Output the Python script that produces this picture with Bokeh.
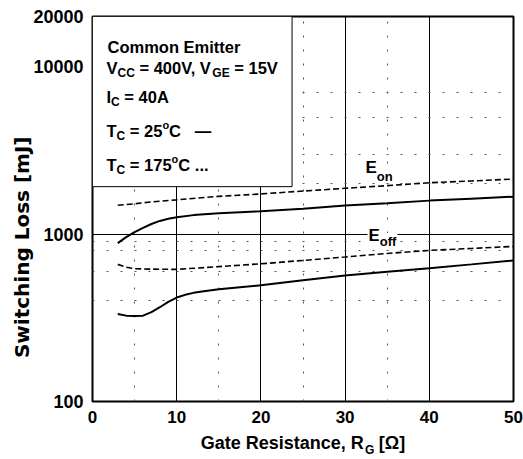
import math
from bokeh.plotting import figure
from bokeh.models import (FixedTicker, PrintfTickFormatter, Grid, BoxAnnotation, Label,
                          LogAxis, LinearAxis)
from bokeh.embed import file_html
from bokeh.resources import INLINE

# ---------------- data ----------------
rg_on25 = [3, 4, 5, 6, 7, 8, 9, 10, 12, 15, 20, 25, 30, 35, 40, 45, 50]
eon_25 = [884, 960, 1028, 1090, 1150, 1200, 1237, 1262, 1300, 1334, 1371, 1420, 1482, 1530, 1587, 1630, 1676]

rg_on175 = [3, 5, 7, 10, 15, 20, 25, 30, 35, 40, 45, 50]
eon_175 = [1488, 1520, 1560, 1603, 1683, 1740, 1810, 1880, 1950, 2030, 2080, 2136]

rg_off175 = [3, 4, 5, 7, 10, 15, 20, 25, 30, 35, 40, 45, 50]
eoff_175 = [660, 635, 622, 618, 616, 640, 665, 697, 730, 767, 800, 822, 845]

rg_off25 = [3, 4, 5, 6, 7, 8, 9, 10, 11, 12, 13, 15, 20, 25, 30, 35, 40, 45, 50]
eoff_25 = [333, 326, 324, 326, 342, 366, 394, 418, 434, 446, 455, 469, 495, 530, 567, 597, 626, 660, 697]

x_ticks = [0, 10, 20, 30, 40, 50]
y_ticks = [100, 1000, 10000, 20000]
x_grid_solid = [10, 20, 30, 40]
x_grid_dotted = [5, 15, 25, 35]
y_grid_solid = [1000]
y_grid_dotted = [400, 600, 800, 900, 2000, 3000, 5000, 7000]

NB = "\u00a0"
x_title = "Gate Resistance, R" + NB * 3 + "[\u03a9]"
x_title_sub = "G"
y_title = "Switching Loss [mJ]"

FONT = "Liberation Sans"
W, H = 523, 459
FL, FR, FT, FB = 92, 513, 16, 402   # frame edges in page pixels

p = figure(width=W, height=H, x_range=(0, 50), y_range=(100, 20000),
           y_axis_type="log", output_backend="svg", toolbar_location=None,
           min_border_left=FL, min_border_right=W - FR, min_border_top=FT,
           min_border_bottom=H - FB)
p.background_fill_color = "white"
p.border_fill_color = "white"
p.outline_line_color = "black"
p.outline_line_width = 2

for ax, fs in ((p.xaxis[0], "17px"), (p.yaxis[0], "18px")):
    ax.axis_line_color = None
    ax.major_tick_line_color = None
    ax.minor_tick_line_color = None
    ax.major_tick_out = 0
    ax.major_tick_in = 0
    ax.major_label_text_font = FONT
    ax.major_label_text_font_style = "bold"
    ax.major_label_text_font_size = fs
    ax.major_label_text_color = "black"
    ax.major_label_standoff = 9

p.xaxis.ticker = FixedTicker(ticks=x_ticks)
p.yaxis.ticker = FixedTicker(ticks=y_ticks)
p.yaxis.formatter = PrintfTickFormatter(format="%d")

xa = p.xaxis[0]
xa.axis_label = x_title
xa.axis_label_text_font = FONT
xa.axis_label_text_font_style = "bold"
xa.axis_label_text_font_size = "18px"
xa.axis_label_text_color = "black"
xa.axis_label_standoff = 7


def title_axis(cls, label, size, font, standoff, side):
    a = cls(ticker=FixedTicker(ticks=[]), axis_label=label,
            axis_line_color=None, major_tick_line_color=None, minor_tick_line_color=None,
            major_tick_out=0, major_tick_in=0, major_label_text_font_size="0px",
            major_label_standoff=0,
            axis_label_text_font=font, axis_label_text_font_style="bold",
            axis_label_text_font_size=size, axis_label_text_color="black",
            axis_label_standoff=standoff)
    p.add_layout(a, side)
    return a


# subscript G of the x title (shifted right of centre with no-break spaces)
title_axis(LinearAxis, NB * 40 + x_title_sub, "12px", FONT, -13, "below")
# y title, centred a little below the frame centre as in the reference
title_axis(LogAxis, y_title + NB * 11, "20px", "DejaVu Sans", -3, "left")

p.xgrid.ticker = FixedTicker(ticks=x_grid_solid)
p.ygrid.ticker = FixedTicker(ticks=y_grid_solid)
for g in (p.xgrid[0], p.ygrid[0]):
    g.grid_line_color = "black"
    g.grid_line_width = 1
    g.grid_line_alpha = 1
    g.minor_grid_line_color = None

p.add_layout(Grid(dimension=0, ticker=FixedTicker(ticks=x_grid_dotted),
                  grid_line_color="#555555", grid_line_dash="2 12", grid_line_width=1))
p.add_layout(Grid(dimension=1, ticker=FixedTicker(ticks=y_grid_dotted),
                  grid_line_color="#555555", grid_line_dash="2 12", grid_line_width=1))

# curves
p.line(rg_on25, eon_25, line_color="black", line_width=2)
p.line(rg_off25, eoff_25, line_color="black", line_width=2)
p.line(rg_on175, eon_175, line_color="black", line_width=1.6, line_dash="6 3")
p.line(rg_off175, eoff_175, line_color="black", line_width=1.6, line_dash="6 3")

# conditions box
box_right = 23.7
box_bottom = 1923
p.add_layout(BoxAnnotation(left=0, right=box_right, top=20000, bottom=box_bottom,
                           fill_color="white", fill_alpha=1,
                           line_color="black", line_width=1, line_alpha=1))

AW = {' ': 278, ',': 278, '.': 278, '=': 584, 'A': 722, 'C': 722, 'E': 667, 'G': 778,
      'I': 278, 'T': 611, 'V': 667, 'R': 722, 'e': 556, 'i': 278, 'm': 889, 'n': 611,
      'o': 611, 'r': 389, 't': 333, 'f': 333, 'a': 556, 's': 556, 'c': 556, '[': 333,
      ']': 333, '\u03a9': 768, '\u2014': 1000}


def width(txt, size):
    return sum(AW.get(ch, 556) for ch in txt) * size / 1000.0


def run(pieces, x0, base, bg=None):
    x = x0
    for txt, size, dy in pieces:
        lead = len(txt) - len(txt.lstrip(" "))
        x += width(" " * lead, size)
        t = txt.lstrip(" ")
        kw = {}
        if bg:
            kw = dict(background_fill_color=bg, background_fill_alpha=1, padding=1)
        p.add_layout(Label(x=x - FL, y=FB - (base + dy), x_units="screen", y_units="screen",
                           text=t, text_font=FONT, text_font_style="bold",
                           text_font_size=f"{size}px", text_color="black",
                           text_align="left", text_baseline="alphabetic", **kw))
        x += width(t, size)


M, S, SU = 16.5, 12, 11
run([("Common Emitter", M, 0)], 107, 47)
run([("V", M, 0), ("CC", S, 5), (" = 400V, V", M, 0), ("GE", S, 5), (" = 15V", M, 0)], 106, 68)
run([("I", M, 0), ("C", S, 5), (" = 40A", M, 0)], 106, 97)
run([("T", M, 0), ("C", S, 5), (" = 25", M, 0), ("o", SU, -6), ("C", M, 0), ("   \u2014", M, 0)], 106, 131)
run([("T", M, 0), ("C", S, 5), (" = 175", M, 0), ("o", SU, -6), ("C ...", M, 0)], 106, 165)

run([("E", 17, 0), ("on", 13, 9)], 365, 168)
run([("E", 17, 0), ("off", 13, 6)], 367, 236, bg="white")

open("out.html", "w").write(file_html(p, INLINE))
